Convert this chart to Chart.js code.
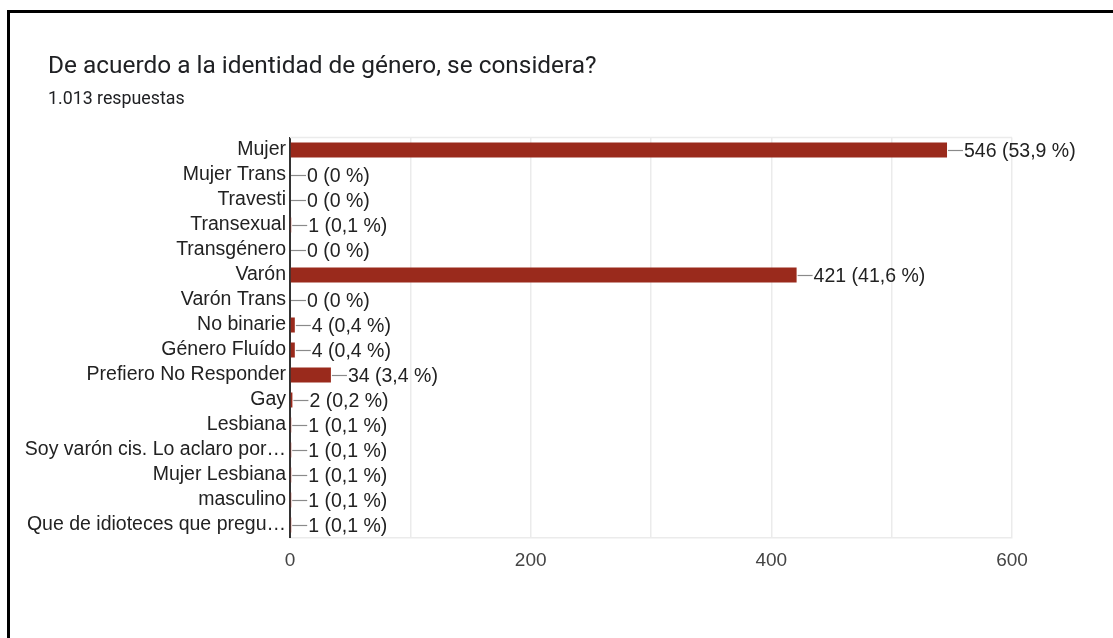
<!DOCTYPE html>
<html>
<head>
<meta charset="utf-8">
<script src="https://cdn.jsdelivr.net/npm/chart.js@4"></script>
<style>
  html, body { margin: 0; padding: 0; background: #fff; }
  #wrap { position: relative; width: 1113px; height: 638px; overflow: hidden; background: #fff; }
  #c { position: absolute; left: 0; top: 0; }
  .frameTop { position: absolute; left: 7px; top: 10px; width: 1106px; height: 3px; background: #000; }
  .frameLeft { position: absolute; left: 7px; top: 10px; width: 3px; height: 628px; background: #000; }
  .title { position: absolute; left: 48px; top: 52.5px; font: 24.4px Roboto, "Liberation Sans", sans-serif; line-height: 24px; color: #202124; white-space: nowrap; }
  .sub { position: absolute; left: 48px; top: 88.5px; font: 17.8px Roboto, "Liberation Sans", sans-serif; line-height: 18px; color: #202124; white-space: nowrap; }
</style>
</head>
<body>
<div id="wrap">
  <canvas id="c" width="1113" height="638"></canvas>
  <div class="frameTop"></div>
  <div class="frameLeft"></div>
  <div class="title">De acuerdo a la identidad de género, se considera?</div>
  <div class="sub">1.013 respuestas</div>
</div>
<script>
const categories = [
  "Mujer", "Mujer Trans", "Travesti", "Transexual", "Transgénero", "Varón",
  "Varón Trans", "No binarie", "Género Fluído", "Prefiero No Responder", "Gay",
  "Lesbiana", "Soy varón cis. Lo aclaro por…", "Mujer Lesbiana", "masculino",
  "Que de idioteces que pregu…"
];
const counts = [546, 0, 0, 1, 0, 421, 0, 4, 4, 34, 2, 1, 1, 1, 1, 1];
const percents = ["53,9", "0", "0", "0,1", "0", "41,6", "0", "0,4", "0,4", "3,4", "0,2", "0,1", "0,1", "0,1", "0,1", "0,1"];
const xTickLabels = [0, 200, 400, 600];

const valueLabels = {
  id: 'valueLabels',
  afterDatasetsDraw(chart) {
    const ctx = chart.ctx;
    const meta = chart.getDatasetMeta(0);
    ctx.save();
    meta.data.forEach((bar, i) => {
      const x = bar.x;
      const y = bar.y;
      ctx.strokeStyle = '#8a8a8a';
      ctx.lineWidth = 1.2;
      ctx.beginPath();
      ctx.moveTo(x + 1, Math.round(y) + 0.5);
      ctx.lineTo(x + 16, Math.round(y) + 0.5);
      ctx.stroke();
      ctx.fillStyle = '#222222';
      ctx.font = '19.5px "Liberation Sans", Arial, sans-serif';
      ctx.textAlign = 'left';
      ctx.textBaseline = 'middle';
      ctx.fillText(counts[i] + ' (' + percents[i] + ' %)', x + 17, y + 1.5);
    });
    ctx.restore();
  },
  beforeDatasetsDraw(chart) {
    const ctx = chart.ctx;
    const a = chart.chartArea;
    ctx.save();
    ctx.strokeStyle = '#ebebeb';
    ctx.lineWidth = 1.5;
    ctx.beginPath();
    ctx.moveTo(a.left, a.top);
    ctx.lineTo(a.right, a.top);
    ctx.stroke();
    ctx.restore();
  }
};

new Chart(document.getElementById('c'), {
  type: 'bar',
  data: {
    labels: categories,
    datasets: [{
      data: counts,
      backgroundColor: '#9a2a1c',
      borderWidth: 0,
      barPercentage: 0.6,
      categoryPercentage: 1.0
    }]
  },
  options: {
    indexAxis: 'y',
    responsive: false,
    animation: false,
    devicePixelRatio: 1,
    layout: { padding: { top: 137.5, right: 101, bottom: 0, left: 0 } },
    plugins: { legend: { display: false }, tooltip: { enabled: false }, title: { display: false } },
    scales: {
      x: {
        min: 0, max: 600,
        afterFit(scale) { scale.height = 100.5; },
        ticks: {
          stepSize: 100,
          padding: 12,
          color: '#444444',
          font: { family: '"Liberation Sans", Arial, sans-serif', size: 19 },
          callback(v) { return xTickLabels.includes(v) ? String(v) : ''; },
          maxRotation: 0, autoSkip: false
        },
        grid: { color: '#ebebeb', lineWidth: 1.5, drawTicks: false },
        border: { display: true, color: '#ebebeb', width: 1.5 }
      },
      y: {
        afterFit(scale) { scale.width = 290; },
        ticks: {
          padding: 4,
          color: '#222222',
          font: { family: '"Liberation Sans", Arial, sans-serif', size: 19.5 },
          autoSkip: false
        },
        grid: { display: false, drawTicks: false },
        border: { display: true, color: '#333333', width: 2 }
      }
    }
  },
  plugins: [valueLabels]
});
</script>
</body>
</html>
